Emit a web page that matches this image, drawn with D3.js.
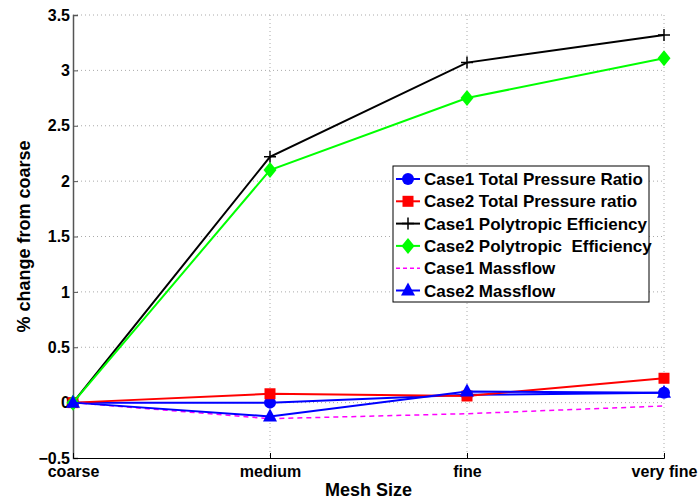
<!DOCTYPE html>
<html><head><meta charset="utf-8">
<script src="https://cdn.jsdelivr.net/npm/d3@7"></script>
<style>body{margin:0;background:#fff}svg{display:block}text{font-family:"Liberation Sans",Arial,sans-serif;font-weight:bold}</style>
</head><body><svg id="c" width="700" height="501"></svg>
<script>
const categories = ["coarse", "medium", "fine", "very fine"];
const yTicks = [-0.5, 0, 0.5, 1, 1.5, 2, 2.5, 3, 3.5];
const c1TotalPressureRatio = [0, 0, 0.07, 0.09];
const c2TotalPressureRatio = [0, 0.08, 0.06, 0.22];
const c1PolytropicEff = [0, 2.22, 3.07, 3.32];
const c2PolytropicEff = [0, 2.10, 2.75, 3.11];
const c1Massflow = [0, -0.145, -0.10, -0.03];
const c2Massflow = [0, -0.125, 0.10, 0.09];

const series = [
  {name: "Case1 Total Pressure Ratio", values: c1TotalPressureRatio, color: "#0000ff", marker: "circle", width: 2, dash: null},
  {name: "Case2 Total Pressure ratio", values: c2TotalPressureRatio, color: "#ff0000", marker: "square", width: 2, dash: null},
  {name: "Case1 Polytropic Efficiency", values: c1PolytropicEff, color: "#000000", marker: "plus", width: 2, dash: null},
  {name: "Case2 Polytropic  Efficiency", values: c2PolytropicEff, color: "#00ff00", marker: "diamond", width: 2, dash: null},
  {name: "Case1 Massflow", values: c1Massflow, color: "#ff00ff", marker: null, width: 1.5, dash: "5,4"},
  {name: "Case2 Massflow", values: c2Massflow, color: "#0000ff", marker: "triangle", width: 2, dash: null}
];

const svg = d3.select("#c");
const L = 73, R = 664, T = 15, B = 458;
const x = d3.scalePoint().domain(categories).range([L, R]);
const y = d3.scaleLinear().domain([-0.5, 3.5]).range([B, T]);

// grid
const g = svg.append("g");
g.selectAll("line.h").data(yTicks.filter(v => v > -0.5)).join("line")
  .attr("x1", L).attr("x2", R).attr("y1", d => y(d)).attr("y2", d => y(d))
  .attr("stroke", "#aaa").attr("stroke-width", 1).attr("stroke-dasharray", "1,3");
g.selectAll("line.v").data(categories.slice(1)).join("line")
  .attr("x1", d => x(d)).attr("x2", d => x(d)).attr("y1", T).attr("y2", B)
  .attr("stroke", "#aaa").attr("stroke-width", 1).attr("stroke-dasharray", "1,3");

// axes
const yAxis = d3.axisLeft(y).tickValues(yTicks).tickSize(-5).tickPadding(3)
  .tickFormat(d => d < 0 ? "\u2212" + Math.abs(d) : String(d));
const ya = svg.append("g").attr("transform", `translate(${L},0)`).call(yAxis);
ya.select(".domain").attr("stroke", "#555").attr("stroke-width", 1.5);
ya.selectAll(".tick line").attr("stroke", "#555");
ya.selectAll("text").attr("font-size", 16).attr("fill", "#000").attr("font-family", '"Liberation Sans",Arial,sans-serif').attr("font-weight", "bold");

const xAxis = d3.axisBottom(x).tickSize(-5).tickPadding(8);
const xa = svg.append("g").attr("transform", `translate(0,${B})`).call(xAxis);
xa.select(".domain").attr("stroke", "#000").attr("stroke-width", 1);
xa.selectAll(".tick line").attr("stroke", "#000");
xa.selectAll("text").attr("font-size", 16).attr("fill", "#000").attr("font-family", '"Liberation Sans",Arial,sans-serif').attr("font-weight", "bold");

svg.append("text").attr("x", (L + R) / 2).attr("y", 496).attr("text-anchor", "middle")
  .attr("font-size", 18).text("Mesh Size");
svg.append("text").attr("transform", `translate(30,${(T + B) / 2}) rotate(-90)`).attr("text-anchor", "middle")
  .attr("font-size", 18).text("% change from coarse");

function drawMarker(sel, type, color, cx, cy) {
  if (type === "circle") sel.append("circle").attr("cx", cx).attr("cy", cy).attr("r", 6).attr("fill", color);
  else if (type === "square") sel.append("rect").attr("x", cx - 5.5).attr("y", cy - 5.5).attr("width", 11).attr("height", 11).attr("fill", color);
  else if (type === "diamond") sel.append("path").attr("d", `M${cx},${cy-8}L${cx+6.5},${cy}L${cx},${cy+8}L${cx-6.5},${cy}Z`).attr("fill", color);
  else if (type === "triangle") sel.append("path").attr("d", `M${cx},${cy-8}L${cx+7},${cy+5}L${cx-7},${cy+5}Z`).attr("fill", color);
  else if (type === "plus") sel.append("path").attr("d", `M${cx-6},${cy}H${cx+6}M${cx},${cy-6}V${cy+6}`).attr("stroke", color).attr("stroke-width", 1.5).attr("fill", "none");
}

const line = d3.line().x((d, i) => x(categories[i])).y(d => y(d));
series.forEach(s => {
  const gs = svg.append("g");
  gs.append("path").attr("d", line(s.values)).attr("fill", "none").attr("stroke", s.color)
    .attr("stroke-width", s.width).attr("stroke-dasharray", s.dash);
  if (s.marker) s.values.forEach((v, i) => drawMarker(gs, s.marker, s.color, x(categories[i]), y(v)));
});

// legend
const lg = svg.append("g");
const lx = 393, ly = 166, lw = 256, lh = 136;
lg.append("rect").attr("x", lx).attr("y", ly).attr("width", lw).attr("height", lh).attr("fill", "#fff").attr("stroke", "#000").attr("stroke-width", 1);
series.forEach((s, i) => {
  const yy = 179 + i * 22.3;
  lg.append("line").attr("x1", 396).attr("x2", 420).attr("y1", yy).attr("y2", yy)
    .attr("stroke", s.color).attr("stroke-width", s.width).attr("stroke-dasharray", s.dash ? "4,3" : null);
  if (s.marker) drawMarker(lg, s.marker, s.color, 408, yy);
  lg.append("text").attr("x", 424).attr("y", yy + 6).attr("font-size", 17).attr("xml:space", "preserve")
    .style("white-space", "pre").text(s.name);
});
</script></body></html>
